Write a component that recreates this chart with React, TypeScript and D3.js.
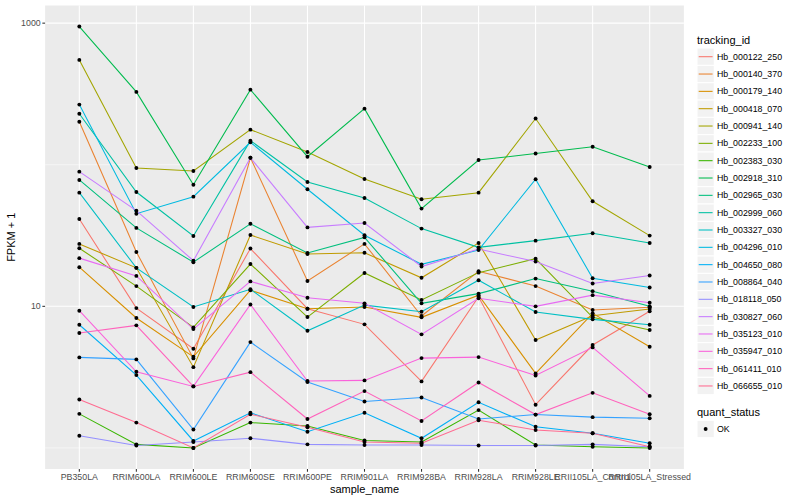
import React from "react";
import * as d3 from "d3";

const categories = [
  "PB350LA", "RRIM600LA", "RRIM600LE", "RRIM600SE", "RRIM600PE", "RRIM901LA",
  "RRIM928BA", "RRIM928LA", "RRIM928LE", "RRII105LA_Control", "RRII105LA_Stressed",
];

const trackingIds = [
  "Hb_000122_250", "Hb_000140_370", "Hb_000179_140", "Hb_000418_070", "Hb_000941_140",
  "Hb_002233_100", "Hb_002383_030", "Hb_002918_310", "Hb_002965_030", "Hb_002999_060",
  "Hb_003327_030", "Hb_004296_010", "Hb_004650_080", "Hb_008864_040", "Hb_018118_050",
  "Hb_030827_060", "Hb_035123_010", "Hb_035947_010", "Hb_061411_010", "Hb_066655_010",
];

const hueColors = [
  "#F8766D", "#EA8331", "#D89000", "#C09B00", "#A3A500", "#7CAE00", "#39B600", "#00BB4E",
  "#00BF7D", "#00C1A3", "#00BFC4", "#00BAE0", "#00B0F6", "#35A2FF", "#9590FF", "#C77CFF",
  "#E76BF3", "#FA62DB", "#FF62BC", "#FF6C91",
];

// FPKM + 1 values per sample, in category order
const hb000122_250 = [41.4, 9.72, 5.02, 25.6, 9.62, 7.46, 2.95, 11.7, 2.02, 5.33, 9.22];
const hb000140_370 = [201, 24.2, 4.29, 112, 15.1, 27.6, 8.54, 17.7, 13.9, 9.42, 9.84];
const hb000179_140 = [18.9, 8.27, 4.4, 13.0, 9.62, 9.89, 8.36, 12.0, 3.36, 8.92, 5.18];
const hb000418_070 = [27.6, 18.7, 3.72, 31.9, 23.4, 23.9, 15.9, 28.0, 5.78, 8.58, 9.57];
const hb000941_140 = [550, 94.9, 90.4, 177, 123, 79.4, 57.0, 63.5, 212, 55.2, 31.6];
const hb002233_100 = [25.7, 13.9, 7.1, 19.9, 8.4, 17.2, 11.1, 17.3, 21.7, 8.36, 6.8];
const hb002383_030 = [1.74, 1.06, 1.0, 1.51, 1.43, 1.13, 1.1, 1.85, 1.05, 1.02, 1.0];
const hb002918_310 = [946, 327, 72.3, 339, 114, 249, 49.0, 108, 120, 134, 96.5];
const hb002965_030 = [78.1, 35.8, 20.5, 38.3, 23.8, 30.7, 10.5, 12.3, 15.7, 12.8, 10.0];
const hb002999_060 = [229, 64.2, 31.4, 148, 75.6, 58.3, 35.4, 26.1, 29.1, 32.8, 28.0];
const hb003327_030 = [63.5, 18.7, 9.89, 13.2, 6.72, 10.2, 9.16, 15.3, 9.11, 8.09, 7.41];
const hb004296_010 = [266, 45.1, 59.5, 144, 67.1, 31.8, 19.8, 25.0, 79.0, 15.8, 13.6];
const hb004650_080 = [7.41, 3.27, 1.12, 1.77, 1.3, 1.77, 1.17, 2.1, 1.41, 1.27, 1.08];
const hb008864_040 = [4.36, 4.22, 1.35, 5.59, 2.92, 2.13, 2.27, 1.6, 1.72, 1.65, 1.62];
const hb018118_050 = [1.22, 1.04, 1.1, 1.17, 1.06, 1.05, 1.05, 1.04, 1.04, 1.06, 1.02];
const hb030827_060 = [89.4, 47.4, 21.0, 112, 36.1, 38.8, 19.1, 25.4, 20.7, 14.5, 16.5];
const hb035123_010 = [21.9, 16.4, 6.91, 15.0, 11.5, 10.5, 6.34, 11.4, 10.0, 12.0, 10.6];
const hb035947_010 = [9.31, 3.45, 2.72, 10.3, 2.97, 3.0, 4.31, 4.38, 3.25, 5.13, 2.33];
const hb061411_010 = [6.48, 7.34, 2.72, 3.43, 1.6, 2.52, 1.55, 2.9, 1.72, 2.45, 1.73];
const hb066655_010 = [2.2, 1.51, 1.0, 1.73, 1.4, 1.1, 1.08, 1.57, 1.34, 1.27, 1.02];

const seriesValues = [
  hb000122_250, hb000140_370, hb000179_140, hb000418_070, hb000941_140,
  hb002233_100, hb002383_030, hb002918_310, hb002965_030, hb002999_060,
  hb003327_030, hb004296_010, hb004650_080, hb008864_040, hb018118_050,
  hb030827_060, hb035123_010, hb035947_010, hb061411_010, hb066655_010,
];

const yMajor = [10, 1000];
const yMinor = [1, 100];
const yTickLabels = ["10", "1000"];

const W = 800;
const H = 500;
const P = { left: 45.1, right: 683.9, top: 5.5, bottom: 469 };
const FONT = "'Liberation Sans', Arial, Helvetica, sans-serif";

export default function App() {
  const x = d3.scalePoint<string>().domain(categories).range([P.left, P.right]).padding(0.6);
  const all = seriesValues.flat();
  const lo = Math.log10(d3.min(all) as number);
  const hi = Math.log10(d3.max(all) as number);
  const ex = (hi - lo) * 0.05;
  const y = d3
    .scaleLog()
    .domain([Math.pow(10, lo - ex), Math.pow(10, hi + ex)])
    .range([P.bottom, P.top]);

  const line = d3
    .line<number>()
    .x((_, i) => x(categories[i]) as number)
    .y((d) => y(d));

  const legX = 697;
  const legY0 = 56.7;
  const legStep = 17.33;
  const keyW = 17.28;

  return (
    <svg
      width={W}
      height={H}
      style={{ position: "absolute", left: 0, top: 0, background: "#fff" }}
      fontFamily={FONT}
    >
      <rect x={0} y={0} width={W} height={H} fill="#fff" />
      <rect x={P.left} y={P.top} width={P.right - P.left} height={P.bottom - P.top} fill="#EBEBEB" />
      {yMinor.map((v) => (
        <line key={"mn" + v} x1={P.left} x2={P.right} y1={y(v)} y2={y(v)} stroke="#fff" strokeWidth={0.53} />
      ))}
      {yMajor.map((v) => (
        <line key={"mj" + v} x1={P.left} x2={P.right} y1={y(v)} y2={y(v)} stroke="#fff" strokeWidth={1.07} />
      ))}
      {categories.map((c) => (
        <line key={"vx" + c} x1={x(c)} x2={x(c)} y1={P.top} y2={P.bottom} stroke="#fff" strokeWidth={1.07} />
      ))}

      {seriesValues.map((vals, i) => (
        <path key={"l" + i} d={line(vals) || ""} fill="none" stroke={hueColors[i]} strokeWidth={1.07} />
      ))}
      {seriesValues.map((vals, i) =>
        vals.map((v, j) => (
          <circle key={"p" + i + "-" + j} cx={x(categories[j])} cy={y(v)} r={1.95} fill="#000" />
        ))
      )}

      {/* y axis */}
      {yMajor.map((v, i) => (
        <g key={"yt" + v}>
          <line x1={P.left - 2.75} x2={P.left} y1={y(v)} y2={y(v)} stroke="#333" strokeWidth={1.07} />
          <text x={P.left - 4.4} y={y(v) + 3.1} textAnchor="end" fontSize={8.8} fill="#4D4D4D">
            {yTickLabels[i]}
          </text>
        </g>
      ))}
      <text
        transform={`translate(14.5, ${(P.top + P.bottom) / 2}) rotate(-90)`}
        textAnchor="middle"
        fontSize={11}
        fill="#000"
      >
        FPKM + 1
      </text>

      {/* x axis */}
      {categories.map((c) => (
        <g key={"xt" + c}>
          <line x1={x(c)} x2={x(c)} y1={P.bottom} y2={P.bottom + 2.75} stroke="#333" strokeWidth={1.07} />
          <text x={x(c)} y={480} textAnchor="middle" fontSize={8.8} fill="#4D4D4D">
            {c}
          </text>
        </g>
      ))}
      <text x={(P.left + P.right) / 2} y={492.5} textAnchor="middle" fontSize={11} fill="#000">
        sample_name
      </text>

      {/* legend: tracking_id */}
      <text x={legX} y={43.5} fontSize={11} fill="#000">
        tracking_id
      </text>
      {trackingIds.map((id, i) => {
        const cy = legY0 + i * legStep;
        return (
          <g key={"lg" + id}>
            <rect x={legX} y={cy - keyW / 2} width={keyW} height={keyW} fill="#F2F2F2" stroke="#fff" strokeWidth={1} />
            <line x1={legX + 1.7} x2={legX + keyW - 1.7} y1={cy} y2={cy} stroke={hueColors[i]} strokeWidth={1.07} />
            <text x={legX + keyW + 2.7} y={cy + 3.1} fontSize={8.8} fill="#000">
              {id}
            </text>
          </g>
        );
      })}

      {/* legend: quant_status */}
      <text x={legX} y={415.5} fontSize={11} fill="#000">
        quant_status
      </text>
      <rect x={legX} y={429 - keyW / 2} width={keyW} height={keyW} fill="#F2F2F2" stroke="#fff" strokeWidth={1} />
      <circle cx={legX + keyW / 2} cy={429} r={1.95} fill="#000" />
      <text x={legX + keyW + 2.7} y={432.1} fontSize={8.8} fill="#000">
        OK
      </text>
    </svg>
  );
}
